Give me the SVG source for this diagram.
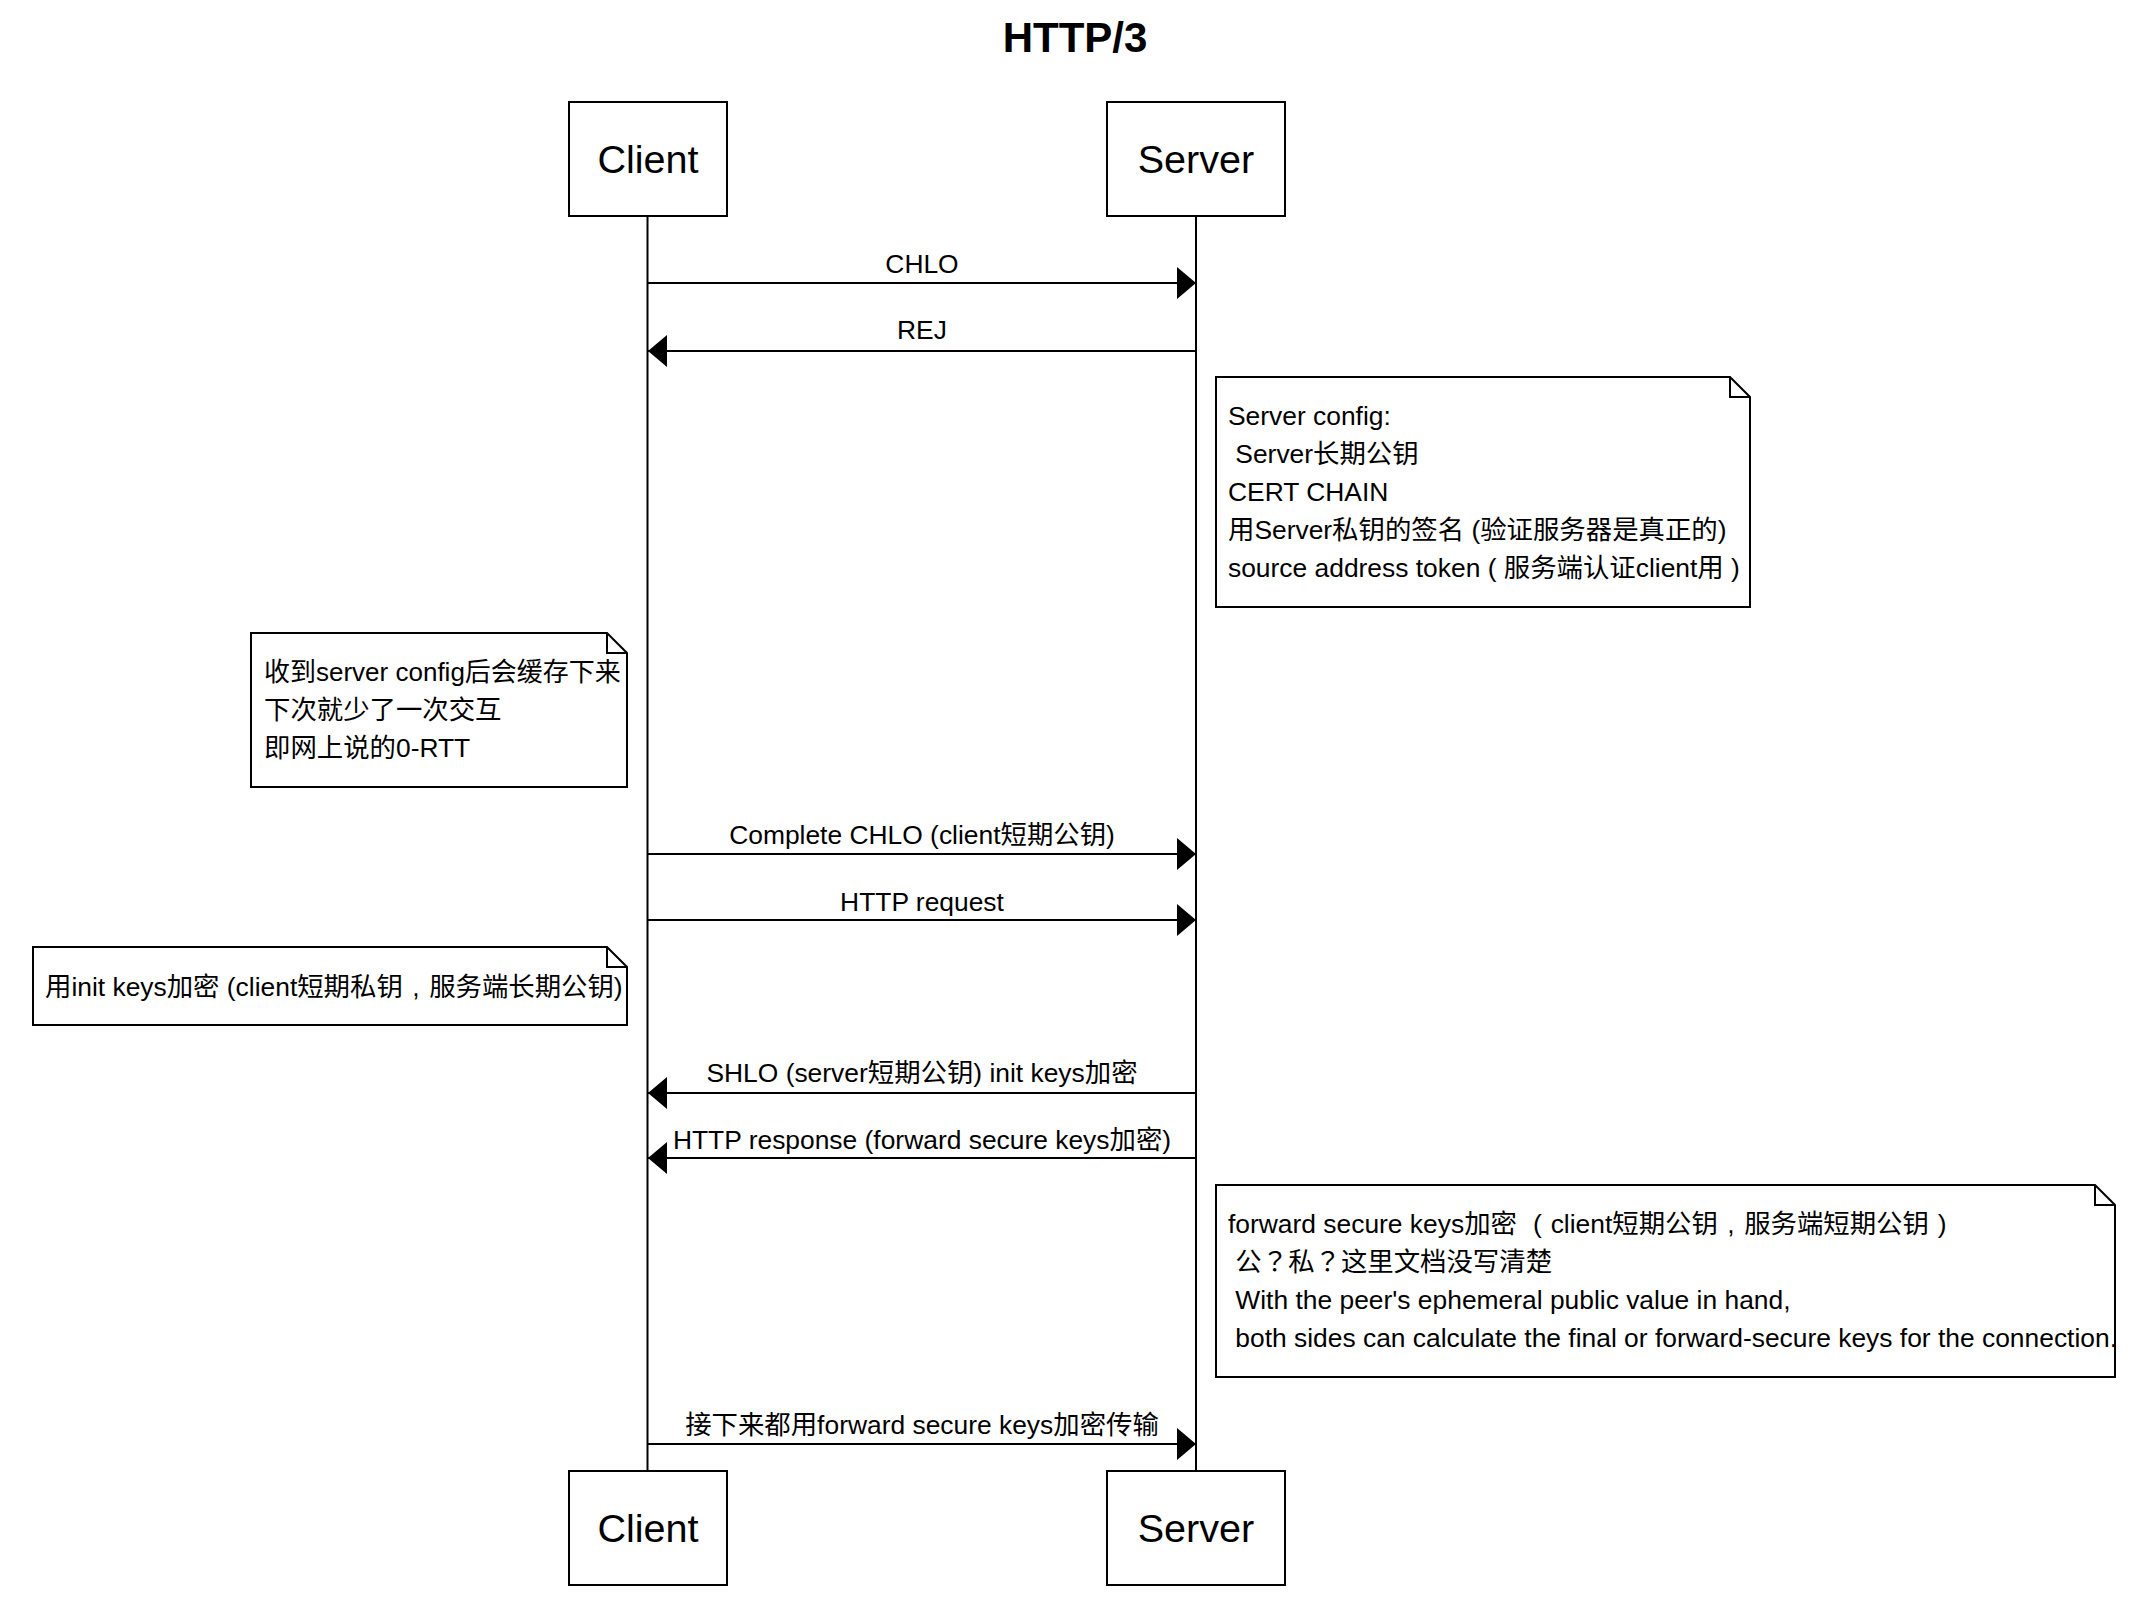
<svg xmlns="http://www.w3.org/2000/svg" width="2144" height="1602" viewBox="0 0 2144 1602">
<style>
text{font-family:"Liberation Sans","Noto Sans CJK SC",sans-serif;fill:#000}
.tc{font-family:"Noto Sans CJK TC",sans-serif}
.title{font-size:42px;font-weight:bold;text-anchor:middle}
.actor rect{fill:#fff;stroke:#000;stroke-width:2}
.actor text{font-size:39.6px;text-anchor:middle}
.life{stroke:#000;stroke-width:2;fill:none}
.msg{stroke:#000;stroke-width:2;fill:none}
.lbl{font-size:26.4px;text-anchor:middle}
.note path{fill:#fff;stroke:#000;stroke-width:2}
.note text{font-size:26.4px;white-space:pre}
</style>
<defs>
<marker id="ah" viewBox="0 0 19 32" refX="19" refY="16" markerWidth="19" markerHeight="32" markerUnits="userSpaceOnUse" orient="auto">
<path d="M0,0 L19,16 L0,32 Z" fill="#000"/>
</marker>
</defs>
<rect width="2144" height="1602" fill="#fff"/>
<text class="title" x="1075" y="52">HTTP/3</text>

<g id="lifelines">
<line class="life" x1="647.5" y1="216" x2="647.5" y2="1470"/>
<line class="life" x1="1196" y1="216" x2="1196" y2="1470"/>
</g>

<g id="client-top" class="actor"><rect x="569" y="102" width="158" height="114"/><text x="648" y="173">Client</text></g>
<g id="server-top" class="actor"><rect x="1107" y="102" width="178" height="114"/><text x="1196" y="173">Server</text></g>
<g id="client-bottom" class="actor"><rect x="569" y="1471" width="158" height="114"/><text x="648" y="1542">Client</text></g>
<g id="server-bottom" class="actor"><rect x="1107" y="1471" width="178" height="114"/><text x="1196" y="1542">Server</text></g>

<g id="connectors">
<line class="msg" x1="648" y1="283" x2="1196" y2="283" marker-end="url(#ah)"/>
<text class="lbl" x="922" y="273">CHLO</text>
<line class="msg" x1="1196" y1="351" x2="648" y2="351" marker-end="url(#ah)"/>
<text class="lbl" x="922" y="339">REJ</text>
<line class="msg" x1="648" y1="854" x2="1196" y2="854" marker-end="url(#ah)"/>
<text class="lbl" x="922" y="844">Complete CHLO (client短期公钥)</text>
<line class="msg" x1="648" y1="920" x2="1196" y2="920" marker-end="url(#ah)"/>
<text class="lbl" x="922" y="911">HTTP request</text>
<line class="msg" x1="1196" y1="1093" x2="648" y2="1093" marker-end="url(#ah)"/>
<text class="lbl" x="922" y="1082">SHLO (server短期公钥) init keys加密</text>
<line class="msg" x1="1196" y1="1158" x2="648" y2="1158" marker-end="url(#ah)"/>
<text class="lbl" x="922" y="1149">HTTP response (forward secure keys加密)</text>
<line class="msg" x1="648" y1="1444" x2="1196" y2="1444" marker-end="url(#ah)"/>
<text class="lbl" x="922" y="1434">接下来都用forward secure keys加密传输</text>
</g>

<g id="note-server-config" class="note">
<path d="M1216,377 H1730 L1750,397 V607 H1216 Z M1730,377 V397 H1750"/>
<text x="1228" y="425">Server config:</text>
<text x="1228" y="463"> Server长期公钥</text>
<text x="1228" y="501">CERT CHAIN</text>
<text x="1228" y="539">用Server私钥的签名 (验证服务器是真正的)</text>
<text x="1228" y="577">source address token ( 服务端认证client用 )</text>
</g>

<g id="note-cache" class="note">
<path d="M251,633 H607 L627,653 V787 H251 Z M607,633 V653 H627"/>
<text x="264" y="681" style="font-size:26px">收到server config后会缓存下来</text>
<text x="264" y="719">下次就少了一次交互</text>
<text x="264" y="757">即网上说的0-RTT</text>
</g>

<g id="note-init-keys" class="note">
<path d="M33,947 H607 L627,967 V1025 H33 Z M607,947 V967 H627"/>
<text x="45" y="996">用init keys加密 (client短期私钥<tspan dx="9.5">,</tspan><tspan dx="9.5">服务端长期公钥)</tspan></text>
</g>

<g id="note-forward-secure" class="note">
<path d="M1216,1185 H2095 L2115,1205 V1377 H1216 Z M2095,1185 V1205 H2115"/>
<text x="1228" y="1233">forward secure keys加密 <tspan dx="8.8">(</tspan><tspan dx="8.8">client短期公钥</tspan><tspan dx="9.5">,</tspan><tspan dx="9.5">服务端短期公钥</tspan><tspan dx="8.8">)</tspan></text>
<text x="1228" y="1271"> 公<tspan class="tc">？</tspan>私<tspan class="tc">？</tspan>这里文档没写清楚</text>
<text x="1228" y="1309"> With the peer's ephemeral public value in hand,</text>
<text x="1228" y="1347"> both sides can calculate the final or forward-secure keys for the connection.</text>
</g>
</svg>
